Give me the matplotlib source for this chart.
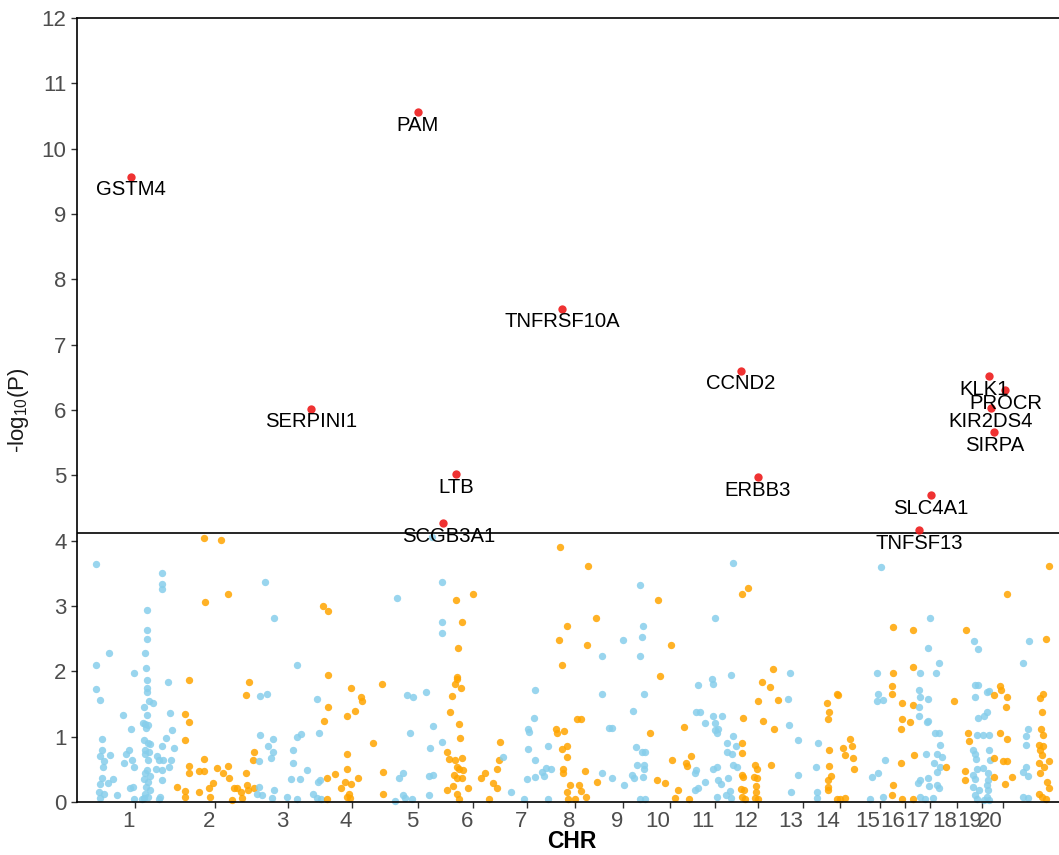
import matplotlib
matplotlib.use("Agg")
import matplotlib.pyplot as plt

plt.rcParams.update({
    "font.family": ["Liberation Sans", "DejaVu Sans"],
    "mathtext.default": "regular",
})

# background SNPs: (cumulative position, -log10 P), one list per chromosome
chr1 = [(19, 3.65), (19, 2.09), (32, 2.28), (19, 1.73), (23, 1.56), (25, 0.96), (25, 0.80), (23, 0.70),
        (27, 0.63), (26, 0.53), (25, 0.36), (23, 0.28), (22, 0.16), (27, 0.13), (31, 0.29), (36, 0.35),
        (23, 0.06), (33, 0.72), (40, 0.11), (47, 0.59), (46, 1.33), (49, 0.73), (52, 0.79), (54, 1.12),
        (57, 1.98), (55, 0.64), (57, 0.54), (53, 0.21), (56, 0.23), (57, 0.05), (67, 0.06), (70, 2.94),
        (70, 2.64), (70, 2.49), (68, 2.28), (69, 2.05), (70, 1.87), (70, 1.74), (70, 1.69), (72, 1.55),
        (76, 1.52), (67, 1.45), (70, 1.33), (66, 1.21), (68, 1.20), (71, 1.18), (69, 1.13), (67, 0.95),
        (71, 0.91), (73, 0.89), (68, 0.80), (72, 0.76), (68, 0.74), (71, 0.64), (80, 0.71), (82, 0.64),
        (79, 0.50), (70, 0.49), (68, 0.44), (73, 0.40), (67, 0.35), (71, 0.31), (69, 0.23), (73, 0.18),
        (68, 0.13), (71, 0.08), (65, 0.04), (85, 0.49), (85, 3.50), (85, 3.33), (85, 3.26), (85, 0.86),
        (86, 0.64), (85, 0.33), (91, 1.83), (93, 1.36), (89, 0.98), (95, 1.10), (97, 0.82), (94, 0.65),
        (92, 0.53), (83, 0.08), (82, 0.05)]
chr2 = [(108, 1.34), (112, 1.22), (108, 0.95), (112, 1.87), (100, 0.23), (108, 0.17), (108, 0.08),
        (112, 0.55), (112, 0.44), (122, 0.48), (127, 0.48), (127, 0.66), (122, 0.15), (132, 0.22),
        (133, 0.08), (136, 0.29), (140, 0.52), (146, 0.45), (151, 0.55), (152, 0.37), (127, 4.04),
        (144, 4.01), (151, 3.19), (128, 3.06), (172, 1.84), (169, 1.64), (157, 0.22), (160, 0.21),
        (164, 0.15), (165, 0.06), (155, 0.03), (170, 0.26), (171, 0.18), (169, 0.44), (176, 0.64),
        (177, 0.76), (177, 0.21)]
chr3 = [(188, 3.37), (197, 2.81), (183, 1.62), (190, 1.65), (183, 1.02), (196, 0.97), (191, 0.86),
        (196, 0.76), (194, 0.68), (182, 0.62), (182, 0.23), (180, 0.13), (185, 0.11), (197, 0.18),
        (195, 0.06), (220, 2.10), (220, 0.99), (224, 1.04), (216, 0.80), (216, 0.59), (230, 0.49),
        (214, 0.35), (223, 0.35), (210, 0.08), (220, 0.04), (236, 0.13), (241, 0.30), (243, 0.34),
        (240, 1.57), (242, 1.05), (240, 0.06), (244, 0.04)]
chr4 = [(246, 3.00), (251, 2.92), (251, 1.94), (251, 1.45), (247, 1.24), (250, 0.36), (258, 0.43),
        (264, 0.22), (270, 0.73), (270, 0.51), (268, 0.31), (274, 0.27), (274, 1.75), (270, 1.31),
        (278, 1.39), (284, 1.61), (285, 1.55), (281, 0.36), (270, 0.08), (273, 0.06), (272, 0.13),
        (296, 0.91), (305, 1.80), (306, 0.46), (306, 0.13), (250, 0.04)]
chr5 = [(320, 3.12), (330, 1.64), (336, 1.60), (349, 1.68), (333, 1.06), (356, 1.17), (353, 0.82),
        (365, 0.92), (322, 0.37), (326, 0.44), (352, 0.40), (356, 0.42), (326, 0.11), (328, 0.06),
        (318, 0.02), (335, 0.04), (352, 0.11), (365, 3.36), (365, 2.76), (365, 2.59), (355, 4.06)]
chr6 = [(379, 3.09), (385, 2.75), (381, 2.35), (380, 1.92), (380, 1.88), (378, 1.81), (384, 1.74),
        (375, 1.63), (373, 1.38), (382, 1.19), (383, 0.98), (370, 0.76), (372, 0.66), (378, 0.64),
        (385, 0.67), (380, 0.54), (382, 0.50), (386, 0.49), (377, 0.41), (380, 0.36), (385, 0.36),
        (376, 0.24), (370, 0.19), (380, 0.13), (382, 0.04), (391, 0.21), (396, 3.18), (404, 0.36),
        (408, 0.44), (412, 0.04), (416, 0.29), (420, 0.22), (420, 0.50), (422, 0.64), (423, 0.92)]
chr7 = [(426, 0.69), (434, 0.15), (447, 0.05), (450, 0.35), (451, 1.11), (452, 1.07), (457, 1.28),
        (458, 1.72), (451, 0.81), (458, 0.64), (458, 0.39), (465, 0.46), (467, 0.40), (469, 0.52),
        (474, 0.50), (471, 0.86), (471, 0.04)]
chr8 = [(483, 3.90), (511, 3.61), (482, 2.48), (490, 2.70), (485, 2.09), (519, 2.81), (510, 2.40),
        (479, 1.11), (480, 1.05), (487, 1.08), (490, 0.85), (485, 0.81), (490, 0.69), (486, 0.51),
        (486, 0.44), (500, 1.27), (504, 1.27), (508, 0.47), (493, 0.26), (490, 0.16), (491, 0.04),
        (498, 0.05), (502, 0.26), (504, 0.17), (509, 0.08), (520, 0.31)]
chr9 = [(525, 2.23), (525, 1.65), (546, 2.48), (563, 3.32), (566, 2.69), (565, 2.53), (563, 2.24),
        (567, 1.66), (556, 1.40), (532, 1.13), (535, 1.13), (559, 0.84), (565, 0.76), (568, 0.76),
        (560, 0.56), (567, 0.56), (567, 0.51), (555, 0.42), (557, 0.36), (566, 0.38), (525, 0.44),
        (535, 0.36), (547, 0.26), (563, 0.04), (568, 0.04)]
chr10 = [(581, 3.09), (583, 1.93), (573, 1.05), (580, 0.33), (594, 2.40), (607, 1.15), (595, 0.64),
         (609, 0.59), (610, 0.55), (614, 0.71), (588, 0.29), (601, 0.18), (598, 0.06), (612, 0.04)]
chr11 = [(656, 3.66), (638, 2.81), (654, 1.95), (635, 1.88), (636, 1.80), (621, 1.79), (619, 1.38),
         (623, 1.38), (628, 1.21), (636, 1.32), (645, 1.32), (638, 1.21), (638, 1.10), (641, 1.11),
         (640, 1.05), (650, 0.90), (656, 1.01), (659, 0.86), (650, 0.76), (655, 0.73), (636, 0.51),
         (640, 0.54), (656, 0.57), (660, 0.54), (619, 0.49), (618, 0.44), (628, 0.30), (641, 0.34),
         (644, 0.27), (651, 0.36), (618, 0.19), (621, 0.21), (653, 0.17), (649, 0.10), (654, 0.06),
         (640, 0.07)]
chr12 = [(665, 3.18), (671, 3.27), (666, 1.29), (665, 0.91), (665, 0.75), (665, 0.41), (666, 0.39),
         (678, 0.57), (680, 0.50), (677, 0.39), (680, 0.37), (679, 0.24), (679, 0.16), (664, 0.20),
         (667, 0.18), (665, 0.08), (668, 0.04), (678, 0.06), (681, 0.04), (685, 1.84), (693, 1.76),
         (696, 2.04), (681, 1.55), (701, 1.56), (686, 1.24), (697, 1.11), (694, 0.56)]
chr13 = [(713, 1.97), (711, 1.57), (712, 1.18), (721, 0.95), (741, 0.91), (721, 0.42), (739, 0.53),
         (740, 0.16), (714, 0.15), (740, 0.06)]
chr14 = [(760, 1.66), (761, 1.64), (750, 1.51), (752, 1.37), (751, 1.27), (752, 0.80), (766, 0.82),
         (768, 0.72), (752, 0.55), (754, 0.40), (751, 0.34), (751, 0.23), (751, 0.18), (760, 0.04),
         (763, 0.04), (773, 0.96), (775, 0.85), (776, 0.68), (777, 0.50), (768, 0.06)]
chr15 = [(793, 0.04), (795, 0.38), (801, 0.45), (808, 0.65), (806, 0.08), (804, 3.59), (800, 1.97),
         (801, 1.66), (800, 1.54), (806, 1.56)]
chr16 = [(816, 2.68), (816, 1.97), (815, 1.78), (815, 1.66), (825, 1.51), (825, 1.27), (824, 1.11),
         (833, 1.22), (824, 0.59), (816, 0.26), (815, 0.11), (825, 0.04), (836, 0.04), (837, 0.72),
         (836, 2.06), (836, 1.49), (836, 2.64)]
chr17 = [(853, 2.81), (851, 2.35), (862, 2.13), (843, 1.97), (859, 1.97), (842, 1.71), (843, 1.61),
         (851, 1.57), (842, 1.45), (842, 1.31), (851, 1.24), (850, 1.22), (858, 1.05), (862, 1.05),
         (863, 0.87), (849, 0.74), (860, 0.74), (865, 0.69), (857, 0.60), (863, 0.54), (860, 0.46),
         (851, 0.36), (860, 0.26), (862, 0.22), (843, 0.34), (841, 0.29), (852, 0.24), (843, 0.08),
         (848, 0.04), (856, 0.06)]
chr18 = [(869, 0.54), (877, 1.55), (889, 2.64), (891, 1.05), (892, 0.94), (888, 0.48), (888, 0.34)]
chr19 = [(897, 2.46), (901, 2.34), (898, 1.79), (901, 1.79), (898, 1.60), (910, 1.68), (912, 1.70),
         (910, 1.37), (907, 1.31), (901, 1.28), (900, 1.02), (906, 1.03), (912, 1.03), (896, 0.80),
         (898, 0.73), (899, 0.66), (912, 0.80), (913, 0.64), (900, 0.50), (906, 0.52), (896, 0.41),
         (911, 0.44), (898, 0.35), (911, 0.34), (896, 0.23), (910, 0.26), (902, 0.18), (911, 0.18),
         (898, 0.11), (910, 0.08), (907, 0.03), (912, 0.03), (900, 0.04)]
chr20 = [(917, 1.64), (923, 1.78), (924, 1.71), (930, 3.18), (930, 1.60), (929, 1.46), (923, 1.05),
         (930, 0.96), (917, 0.67), (926, 0.63), (930, 0.62), (935, 0.39), (928, 0.28), (917, 0.38)]
chr21 = [(946, 2.13), (952, 2.46), (951, 1.12), (949, 1.01), (949, 0.87), (949, 0.53), (946, 0.46),
         (951, 0.40), (946, 0.08), (951, 0.06)]
chr22 = [(972, 3.61), (969, 2.49), (966, 1.66), (963, 1.59), (965, 1.37), (964, 1.11), (966, 1.02),
         (962, 0.87), (966, 0.85), (963, 0.80), (965, 0.72), (962, 0.59), (967, 0.53), (972, 0.62),
         (963, 0.44), (970, 0.31), (972, 0.21), (962, 0.13), (965, 0.08), (969, 0.04)]
background = [chr1, chr2, chr3, chr4, chr5, chr6, chr7, chr8, chr9, chr10, chr11,
              chr12, chr13, chr14, chr15, chr16, chr17, chr18, chr19, chr20, chr21, chr22]

# highlighted genes
hit_genes = ["GSTM4", "SERPINI1", "PAM", "SCGB3A1", "LTB", "TNFRSF10A", "CCND2", "ERBB3",
             "TNFSF13", "SLC4A1", "KLK1", "KIR2DS4", "SIRPA", "PROCR"]
hit_pos = [54, 234, 341, 366, 379, 485, 664, 681, 842, 854, 912.5, 914, 917.5, 928.5]
hit_logp = [9.57, 6.02, 10.56, 4.27, 5.02, 7.55, 6.60, 4.97, 4.16, 4.70, 6.52, 6.03, 5.66, 6.30]
hit_dx = [0, 0, 0, 4, 0, 0, 0, 0, 0, 0, -4, 0, 0, 0]  # label nudges (points)

chr_labels = [str(i) for i in range(1, 21)]
chr_ticks = [58, 138, 211, 275, 341, 396, 450, 498, 546, 593, 638, 681, 726, 763, 803, 828,
             853, 880, 905, 926]
threshold = 4.12

COLS = ["#87CEEB", "#FFA500"]

fig = plt.figure(figsize=(10.59, 8.55), dpi=100)
ax = fig.add_axes([77 / 1059, 53 / 855, 982 / 1059, 784 / 855])

for i, pts in enumerate(background):
    xs = [p[0] for p in pts]
    ys = [p[1] for p in pts]
    ax.scatter(xs, ys, s=28, color=COLS[i % 2], alpha=0.85, linewidths=0, zorder=2,
               clip_on=False)

ax.axhline(threshold, color="black", linewidth=1.2, zorder=1)
ax.scatter(hit_pos, hit_logp, s=36, color="#EE1C1C", alpha=0.9, linewidths=0, zorder=3)
for g, x, y, dx in zip(hit_genes, hit_pos, hit_logp, hit_dx):
    ax.annotate(g, (x, y), xytext=(dx, -9.5), textcoords="offset points",
                ha="center", va="center", fontsize=14.6, color="black", zorder=4)

ax.set_xlim(0, 982)
ax.set_ylim(0, 12)
ax.set_yticks(range(0, 13))
ax.set_xticks(chr_ticks)
ax.set_xticklabels(chr_labels, ha="right",
                   family=["Liberation Sans Narrow", "Liberation Sans"])
ax.tick_params(axis="both", direction="out", length=4, width=1, color="#333333",
               labelsize=16, labelcolor="#4D4D4D")
ax.tick_params(axis="x", pad=2.5)
for side in ["left", "bottom", "top"]:
    ax.spines[side].set_linewidth(1.2)
    ax.spines[side].set_color("black")
ax.spines["right"].set_visible(False)

ax.set_ylabel("-log$_{10}$(P)", fontsize=16, color="#1a1a1a", labelpad=8)
fig.text(572 / 1059, 2 / 855, "CHR", ha="center", va="bottom", fontsize=16.5,
         fontweight="bold", family=["Liberation Sans Narrow", "Liberation Sans"])

fig.savefig("out.png", dpi=100)
